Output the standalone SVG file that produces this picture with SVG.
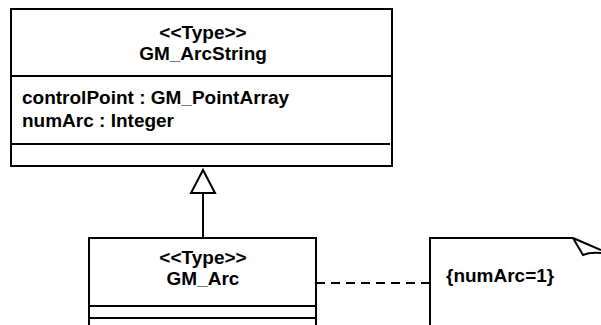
<svg xmlns="http://www.w3.org/2000/svg" width="601" height="325" viewBox="0 0 601 325">
<style>
.box{fill:#fff;stroke:#000;stroke-width:2}
.ln{stroke:#000;stroke-width:2;fill:none}
.t{font-family:"Liberation Sans",Arial,sans-serif;font-weight:bold;font-size:19px;fill:#000}
.c{text-anchor:middle}
</style>
<rect width="601" height="325" fill="#fff"/>
<g id="GM_ArcString">
<rect class="box" x="11" y="9" width="381" height="157"/>
<line class="ln" x1="11" y1="76" x2="392" y2="76"/>
<line class="ln" x1="11" y1="144" x2="390" y2="144"/>
<text class="t c" x="203" y="39">&lt;&lt;Type&gt;&gt;</text>
<text class="t c" x="203" y="60">GM_ArcString</text>
<text class="t" x="22" y="104">controlPoint : GM_PointArray</text>
<text class="t" x="22" y="127">numArc : Integer</text>
</g>
<g id="GM_Arc">
<rect class="box" x="89" y="238" width="227" height="100"/>
<line class="ln" x1="89" y1="306" x2="316" y2="306"/>
<line class="ln" x1="89" y1="318" x2="316" y2="318"/>
<text class="t c" x="203" y="264">&lt;&lt;Type&gt;&gt;</text>
<text class="t c" x="203" y="285">GM_Arc</text>
</g>
<g id="note">
<path class="ln" d="M430,340 L430,238 L573,238"/>
<path class="ln" d="M573,238 L601,250 M573,238 L583,255 Q590,252 601,253"/>
<text class="t" x="446" y="282">{numArc=1}</text>
</g>
<g id="connectors">
<line class="ln" x1="203" y1="193" x2="203" y2="238"/>
<polygon class="box" points="203,170 191,193 215,193"/>
<line class="ln" x1="316" y1="283" x2="430" y2="283" stroke-dasharray="9,6"/>
</g>
</svg>
